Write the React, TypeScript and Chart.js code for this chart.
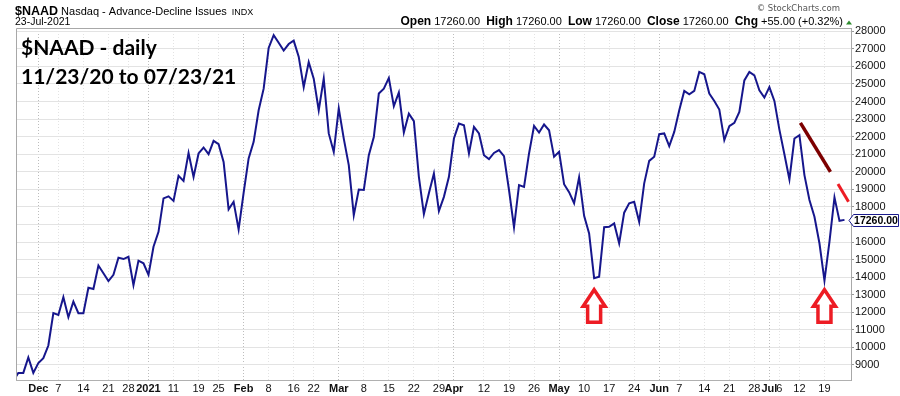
import React, { useEffect, useRef } from "react";
import { Chart, registerables } from "chart.js";
Chart.register(...registerables);

// Trading-day index 0 = 23-Nov-2020 ... 166 = 23-Jul-2021
const values = [
  8100, 8540, 8550, 9430, 8550, 9110, 9390, 10110, 11950, 11850,
  12860, 11720, 12610, 11950, 11950, 13400, 13330, 14660, 14220, 13780,
  14130, 15110, 15030, 15160, 13540, 14940, 14790, 14130, 15730, 16580,
  18480, 18600, 18340, 19770, 19480, 21070, 19710, 21040, 21380, 21000,
  21760, 21570, 20560, 17860, 18290, 16720, 18800, 20760, 21700, 23500,
  24730, 27050, 27770, 27340, 26900, 27270, 27460, 26550, 24820, 26240,
  25300, 23500, 25300, 22180, 21130, 23600, 21890, 20380, 17530, 18990,
  18960, 20940, 21980, 24450, 24730, 25340, 23730, 24510, 22230, 23310,
  22880, 19710, 17590, 18770, 19900, 17760, 18570, 19710, 21890, 22740,
  22650, 21040, 22550, 22180, 20940, 20720, 21070, 21230, 20890, 18960,
  16840, 19240, 19140, 21040, 22610, 22230, 22690, 22360, 20850, 21130,
  19290, 18840, 18210, 19690, 17490, 16490, 13940, 14030, 16840, 16870,
  17060, 15930, 17670, 18200, 18290, 17150, 19340, 20620, 20850, 22140,
  22180, 21460, 22270, 23500, 24600, 24410, 24600, 25680, 25550, 24450,
  24030, 23540, 21800, 22590, 22780, 23400, 25200, 25680, 25490, 24640,
  24220, 24820, 24030, 22400, 21000, 19560, 21890, 22080, 19810, 18390,
  17440, 15930, 13800, 16020, 18540, 17205, 17260,
];

const tickIdx = [5, 9, 14, 19, 23, 27, 32, 37, 41, 46, 51, 56, 60, 65, 70, 75, 80, 85, 88, 94, 99, 104, 109, 114, 119, 124, 129, 133, 138, 143, 148, 151, 153, 157, 162];
const tickLabels = ["Dec", "7", "14", "21", "28", "2021", "11", "19", "25", "Feb", "8", "16", "22", "Mar", "8", "15", "22", "29", "Apr", "12", "19", "26", "May", "10", "17", "24", "Jun", "7", "14", "21", "28", "Jul", "6", "12", "19"];
const monthLabels = ["Dec", "2021", "Feb", "Mar", "Apr", "May", "Jun", "Jul"];
const yTicks = [9000, 10000, 11000, 12000, 13000, 14000, 15000, 16000, 17000, 18000, 19000, 20000, 21000, 22000, 23000, 24000, 25000, 26000, 27000, 28000];

const lastClose = 17260;
const headerItems: [string, boolean][] = [
  ["Open", true], [" 17260.00  ", false],
  ["High", true], [" 17260.00  ", false],
  ["Low", true], [" 17260.00  ", false],
  ["Close", true], [" 17260.00  ", false],
  ["Chg", true], [" +55.00 (+0.32%)", false],
];
const noteLines = ["$NAAD - daily", "11/23/20 to 07/23/21"];
// annotation trend lines in data space [index, value]
const trendDark = [[157.2, 22780], [163.2, 19990]];
const trendRed = [[164.7, 19300], [166.8, 18290]];
// arrow tips in data space [index, value]
const arrowTips = [[116, 13370], [162, 13370]];

const FONT = '"Liberation Sans", Arial, sans-serif';

export default function App() {
  const ref = useRef<HTMLCanvasElement>(null);
  useEffect(() => {
    const canvas = ref.current!;
    const isMonth = (i: number) => monthLabels.includes(tickLabels[i]);

    const decor = {
      id: "decor",
      beforeDraw(chart: any) {
        const { ctx, width, height } = chart;
        ctx.save();
        ctx.fillStyle = "#fff";
        ctx.fillRect(0, 0, width, height);
        ctx.restore();
      },
      afterDatasetsDraw(chart: any) {
        const { ctx, chartArea: a, scales } = chart;
        const xs = scales.x, ys = scales.y;
        ctx.save();
        // frame: left & top
        ctx.strokeStyle = "#a8a8a8";
        ctx.lineWidth = 1;
        ctx.beginPath();
        ctx.moveTo(a.left + 0.5, a.bottom);
        ctx.lineTo(a.left + 0.5, a.top + 0.5);
        ctx.lineTo(a.right, a.top + 0.5);
        ctx.stroke();

        // trend lines
        const seg = (p: number[][], color: string, w: number) => {
          ctx.strokeStyle = color;
          ctx.lineWidth = w;
          ctx.lineCap = "butt";
          ctx.beginPath();
          ctx.moveTo(xs.getPixelForValue(p[0][0]), ys.getPixelForValue(p[0][1]));
          ctx.lineTo(xs.getPixelForValue(p[1][0]), ys.getPixelForValue(p[1][1]));
          ctx.stroke();
        };
        seg(trendDark, "#7d0000", 3.5);
        seg(trendRed, "#ed1c24", 3);

        // arrows
        arrowTips.forEach(([ix, v]) => {
          const tx = xs.getPixelForValue(ix);
          const ty = ys.getPixelForValue(v);
          const hw = 11, sw = 6.5, hh = 18, th = 34;
          ctx.beginPath();
          ctx.moveTo(tx, ty + 1.5);
          ctx.lineTo(tx + hw, ty + hh);
          ctx.lineTo(tx + sw, ty + hh);
          ctx.lineTo(tx + sw, ty + th);
          ctx.lineTo(tx - sw, ty + th);
          ctx.lineTo(tx - sw, ty + hh);
          ctx.lineTo(tx - hw, ty + hh);
          ctx.closePath();
          ctx.fillStyle = "#fff";
          ctx.fill();
          ctx.lineJoin = "miter";
          ctx.strokeStyle = "#ed1c24";
          ctx.lineWidth = 3.5;
          ctx.stroke();
        });

        // note text
        ctx.fillStyle = "#000";
        ctx.font = 'bold 21px Lato, "Open Sans", sans-serif';
        ctx.textBaseline = "alphabetic";
        ctx.textAlign = "left";
        ctx.fillText(noteLines[0], 21, 55);
        ctx.fillText(noteLines[1], 21, 84);
        ctx.restore();
      },
      afterDraw(chart: any) {
        const { ctx, scales } = chart;
        const ys = scales.y;
        ctx.save();
        ctx.textBaseline = "alphabetic";
        ctx.textAlign = "left";
        ctx.fillStyle = "#000";
        // header left
        let x = 15;
        ctx.font = `bold 12.5px ${FONT}`;
        ctx.fillText("$NAAD", x, 15);
        x += ctx.measureText("$NAAD").width;
        ctx.font = `11px ${FONT}`;
        ctx.fillText(" Nasdaq - Advance-Decline Issues", x, 15);
        x += ctx.measureText(" Nasdaq - Advance-Decline Issues").width;
        ctx.font = `9px ${FONT}`;
        ctx.fillText("  INDX", x, 15);
        ctx.font = `10.5px ${FONT}`;
        ctx.fillText("23-Jul-2021", 15, 25);

        // header right
        const fontOf = (b: boolean) => (b ? `bold 12px ${FONT}` : `11px ${FONT}`);
        let total = 0;
        headerItems.forEach(([t, b]) => {
          ctx.font = fontOf(b);
          total += ctx.measureText(t).width;
        });
        let rx = 843 - total;
        headerItems.forEach(([t, b]) => {
          ctx.font = fontOf(b);
          ctx.fillText(t, rx, 25);
          rx += ctx.measureText(t).width;
        });
        // green triangle
        ctx.fillStyle = "#2e8b2e";
        ctx.beginPath();
        ctx.moveTo(846, 24.5);
        ctx.lineTo(852, 24.5);
        ctx.lineTo(849, 20.5);
        ctx.closePath();
        ctx.fill();
        // copyright
        ctx.fillStyle = "#555";
        ctx.font = `8.5px "DejaVu Sans", ${FONT}`;
        ctx.textAlign = "right";
        ctx.fillText("\u00A9 StockCharts.com", 840, 11);

        // price label
        const cy = Math.round(ys.getPixelForValue(lastClose)) + 0.5;
        ctx.beginPath();
        ctx.moveTo(849, cy);
        ctx.lineTo(853.5, cy - 6);
        ctx.lineTo(898.5, cy - 6);
        ctx.lineTo(898.5, cy + 6);
        ctx.lineTo(853.5, cy + 6);
        ctx.closePath();
        ctx.fillStyle = "#fff";
        ctx.fill();
        ctx.strokeStyle = "#1a1a8c";
        ctx.lineWidth = 1;
        ctx.stroke();
        ctx.fillStyle = "#000";
        ctx.font = `bold 10.5px ${FONT}`;
        ctx.textAlign = "center";
        ctx.textBaseline = "middle";
        ctx.fillText(lastClose.toFixed(2), 876, cy + 0.5);
        ctx.restore();
      },
    };

    const chart = new Chart(canvas, {
      type: "line",
      data: {
        datasets: [
          {
            data: values.map((v, i) => ({ x: i, y: v })),
            borderColor: "#16168c",
            borderWidth: 2,
            pointRadius: 0,
            tension: 0,
            fill: false,
          },
        ],
      },
      options: {
        animation: false,
        responsive: false,
        devicePixelRatio: 1,
        events: [],
        layout: { padding: { left: 16, top: 28, right: 0, bottom: 0 } },
        plugins: { legend: { display: false }, tooltip: { enabled: false } },
        scales: {
          x: {
            type: "linear",
            min: 0.54,
            max: 167.3,
            afterFit: (s: any) => { s.height = 16; },
            afterBuildTicks: (s: any) => { s.ticks = tickIdx.map((v) => ({ value: v })); },
            grid: {
              drawTicks: false,
              color: (c: any) => (c.tick && isMonth(c.index) ? "#bdbdbd" : "#e3e3e3"),
            },
            border: { display: true, color: "#b0b0b0", dash: [1, 2] },
            ticks: {
              autoSkip: false,
              maxRotation: 0,
              padding: 2,
              color: "#111",
              font: (c: any) => ({ family: FONT, size: 11, weight: isMonth(c.index) ? "bold" : "normal" }),
              callback: (_v: any, i: number) => tickLabels[i],
            },
          },
          y: {
            position: "right",
            min: 8146,
            max: 28182,
            afterFit: (s: any) => { s.width = 49; },
            afterBuildTicks: (s: any) => { s.ticks = yTicks.map((v) => ({ value: v })); },
            grid: { color: "#e3e3e3", tickLength: 3, tickColor: "#999" },
            border: { display: true, color: "#a8a8a8" },
            ticks: {
              padding: 1,
              color: "#111",
              font: { family: FONT, size: 11 },
              callback: (v: any) => String(v),
            },
          },
        },
      },
      plugins: [decor],
    } as any);
    return () => chart.destroy();
  }, []);

  return (
    <div style={{ position: "absolute", left: 0, top: 0, width: 900, height: 396, background: "#fff" }}>
      <canvas ref={ref} width={900} height={396} style={{ display: "block", width: 900, height: 396 }} />
    </div>
  );
}
